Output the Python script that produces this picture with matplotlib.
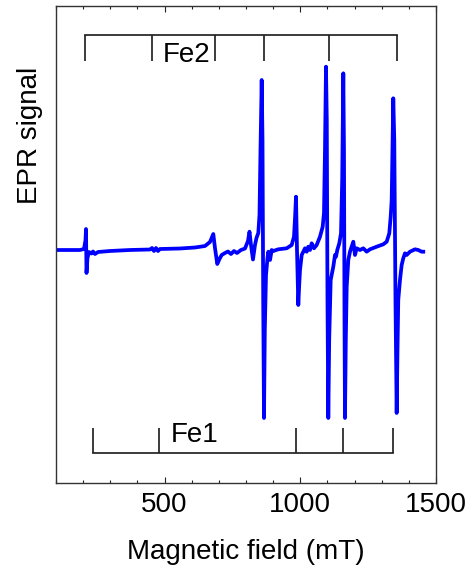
import matplotlib
matplotlib.use("Agg")
import matplotlib.pyplot as plt
from matplotlib.ticker import MultipleLocator

plt.rcParams['font.family'] = ['Liberation Sans', 'DejaVu Sans']

# EPR spectrum: magnetic field (mT) and signal (arb. units)
field = [100, 151.6, 188.4, 203.2, 208.7, 210.5, 212.4, 216, 221.6, 230.8, 236.3, 243.7,
         254.7, 298.9, 372.6, 446.3, 453.7, 461, 468.4, 475.8, 483.1, 556.8, 612.1, 648.9,
         667.3, 679.5, 685.7, 694.2, 702.3, 710.4, 722.6, 733.6, 744.7, 755.7, 766.8, 781.5,
         796.3, 807.3, 812.9, 818.4, 825.7, 833.1, 838.6, 845.3, 849.7, 853.4, 857.8, 860.8,
         863.4, 866.3, 869.3, 873.7, 879.2, 882.2, 888.5, 894.7, 900.7, 919, 949.9, 968.3,
         976.8, 981.2, 984.2, 987.9, 992.7, 996, 999, 1005.2, 1011.1, 1017.3, 1023.6, 1029.5,
         1035.7, 1042, 1050.5, 1060.4, 1072.6, 1082.5, 1087.3, 1091, 1094.7, 1097.6, 1100.2,
         1103.2, 1106.5, 1112, 1121.6, 1127.9, 1131.5, 1136.3, 1143.7, 1150, 1154.4, 1158.5,
         1161, 1162.9, 1164.7, 1167.7, 1171, 1176.9, 1183.1, 1195.3, 1201.5, 1207.8, 1220,
         1232.1, 1244.6, 1256.8, 1281.5, 1305.8, 1318.3, 1327.9, 1333.1, 1336.7, 1340, 1342.6,
         1346.3, 1350.7, 1355.1, 1358.1, 1361, 1367.3, 1373.5, 1379.4, 1385.7, 1391.9, 1404.1,
         1422.5, 1434.7, 1447.2, 1453.1]
signal = [0, 0, 0, 1, 10, 21, -23, -8, -2, -3.5, -1.5, -4,
          -2, -1, 0, 0.5, 2, -1, 2, -1, 1, 1.5, 2.5, 4,
          8, 16, 2, -14, -9, -5, -3, -1.5, -4, -1, -3, 0,
          1.5, 9, 18.3, 5, -9.5, 5, 12, 17, 35, 100, 170, 110,
          -50, -168, -80, -25, -8, -1.7, -10, 0, -1, 0.7, 1.7, 5,
          13.3, 35, 53.3, 0, -55, -35, -20, -5, -1.7, 1.7, -1.7, 3.3,
          0, 6.7, 1.7, 5, 13.3, 23.3, 37, 100, 183.3, 130, -50,
          -168, -90, -30, -16.7, -5, -6.7, 0, 6.7, 16.7, 70, 176.7,
          100, -70, -168, -90, -36.7, -10, -1.7, 8.3, -5, 1.7, 0,
          1.7, -1.7, 0.7, 3.3, 5.7, 8.3, 16.7, 33.3, 50, 110, 151.7,
          110, -50, -163, -100, -50, -30, -15, -8.3, -3.3, -5, -1.7,
          0.7, 0, -1.7, -1.7]

# Stick diagrams (line positions in mT)
fe2_lines = [207, 453, 687, 866, 1107, 1355]
fe1_lines = [235, 478, 983, 1159, 1343]
fe2_label = "Fe2"
fe1_label = "Fe1"

fig = plt.figure(figsize=(4.71, 5.66), dpi=100)
ax = fig.add_axes([56/471, 1 - 483/566, 380/471, 477/566])

ax.plot(field, signal, color='#0000ff', lw=2.7, solid_joinstyle='round')

stick_color = '#1a1a1a'
# Fe2 (top)
fe2_base, fe2_tip = 215, 189
ax.plot([fe2_lines[0], fe2_lines[-1]], [fe2_base, fe2_base], color=stick_color, lw=1.2)
ax.vlines(fe2_lines, fe2_tip, fe2_base, color=stick_color, lw=1.2)
ax.text(581, 187.5, fe2_label, ha='center', va='baseline', fontsize=20)
# Fe1 (bottom)
fe1_base, fe1_tip = -203, -178
ax.plot([fe1_lines[0], fe1_lines[-1]], [fe1_base, fe1_base], color=stick_color, lw=1.2)
ax.vlines(fe1_lines, fe1_base, fe1_tip, color=stick_color, lw=1.2)
ax.text(609, -191.5, fe1_label, ha='center', va='baseline', fontsize=20)

ax.set_xlim(100, 1500)
ax.set_ylim(-233, 244)
ax.xaxis.set_major_locator(MultipleLocator(500))
ax.xaxis.set_minor_locator(MultipleLocator(100))
ax.set_yticks([])
ax.tick_params(axis='x', which='both', direction='in', top=True, bottom=True,
               labelsize=20, pad=6.5, width=0.8, color='#222222')
ax.tick_params(axis='x', which='major', length=4.5)
ax.tick_params(axis='x', which='minor', length=2.5)
for s in ax.spines.values():
    s.set_linewidth(1.0)
    s.set_color('#333333')

ax.set_xlabel('Magnetic field (mT)', fontsize=20, labelpad=15)
fig.text(30/471, 1 - 135/566, 'EPR signal', rotation=90, ha='center', va='center',
         fontsize=20)

fig.savefig('out.png', dpi=100)
